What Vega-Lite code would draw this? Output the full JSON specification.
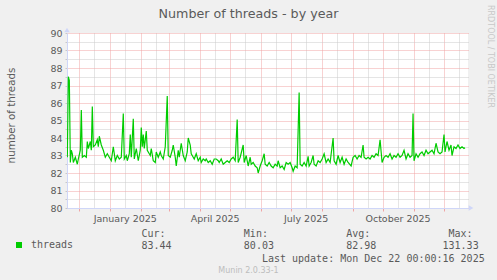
{
  "$schema": "https://vega.github.io/schema/vega-lite/v6.json",
  "width": 401,
  "height": 175,
  "autosize": {"type": "none"},
  "padding": {"left": 67, "top": 33, "right": 29, "bottom": 72},
  "background": "#F0F0F0",
  "config": {"view": {"fill": "#FFFFFF", "stroke": null}},
  "title": {"text": "Munin 2.0.33-1", "orient": "bottom", "anchor": "middle", "frame": "group", "dx": -19, "offset": 4, "font": "DejaVu Sans", "fontSize": 8, "fontWeight": "normal", "color": "#BDBDBD"},
  "layer": [
    {
      "data": {"values": [
        {"date":"2024-11-19","threads":82.9},{"date":"2024-11-20","threads":87.5},{"date":"2024-11-21","threads":87.3},{"date":"2024-11-22","threads":82.6},
        {"date":"2024-11-23","threads":83.3},{"date":"2024-11-24","threads":83.1},{"date":"2024-11-25","threads":82.6},{"date":"2024-11-27","threads":82.9},
        {"date":"2024-11-29","threads":82.5},{"date":"2024-11-30","threads":82.8},{"date":"2024-12-02","threads":83.3},{"date":"2024-12-03","threads":85.6},
        {"date":"2024-12-04","threads":82.9},{"date":"2024-12-06","threads":83.0},{"date":"2024-12-08","threads":82.9},{"date":"2024-12-09","threads":83.8},
        {"date":"2024-12-10","threads":83.4},{"date":"2024-12-12","threads":83.8},{"date":"2024-12-13","threads":83.3},{"date":"2024-12-14","threads":85.8},
        {"date":"2024-12-15","threads":83.5},{"date":"2024-12-17","threads":83.6},{"date":"2024-12-19","threads":83.9},{"date":"2024-12-20","threads":83.5},
        {"date":"2024-12-21","threads":84.1},{"date":"2024-12-23","threads":83.6},{"date":"2024-12-25","threads":83.3},{"date":"2024-12-27","threads":82.9},
        {"date":"2024-12-29","threads":83.1},{"date":"2024-12-31","threads":82.9},{"date":"2025-01-02","threads":82.7},{"date":"2025-01-04","threads":83.5},
        {"date":"2025-01-06","threads":82.7},{"date":"2025-01-08","threads":83.0},{"date":"2025-01-10","threads":82.8},{"date":"2025-01-12","threads":82.9},
        {"date":"2025-01-14","threads":85.4},{"date":"2025-01-15","threads":82.8},{"date":"2025-01-17","threads":83.0},{"date":"2025-01-18","threads":82.7},
        {"date":"2025-01-20","threads":83.1},{"date":"2025-01-21","threads":84.2},{"date":"2025-01-22","threads":82.9},{"date":"2025-01-24","threads":85.1},
        {"date":"2025-01-25","threads":82.8},{"date":"2025-01-27","threads":83.4},{"date":"2025-01-29","threads":82.7},{"date":"2025-01-31","threads":83.3},
        {"date":"2025-02-01","threads":84.6},{"date":"2025-02-02","threads":83.5},{"date":"2025-02-03","threads":84.2},{"date":"2025-02-04","threads":83.4},
        {"date":"2025-02-06","threads":84.4},{"date":"2025-02-07","threads":83.3},{"date":"2025-02-09","threads":83.1},{"date":"2025-02-10","threads":83.0},
        {"date":"2025-02-11","threads":83.4},{"date":"2025-02-13","threads":82.7},{"date":"2025-02-15","threads":82.6},{"date":"2025-02-16","threads":83.2},
        {"date":"2025-02-18","threads":82.9},{"date":"2025-02-20","threads":83.2},{"date":"2025-02-21","threads":83.0},{"date":"2025-02-23","threads":82.8},
        {"date":"2025-02-25","threads":83.5},{"date":"2025-02-27","threads":86.4},{"date":"2025-02-28","threads":83.0},{"date":"2025-03-02","threads":82.9},
        {"date":"2025-03-04","threads":83.3},{"date":"2025-03-05","threads":83.6},{"date":"2025-03-07","threads":82.9},{"date":"2025-03-08","threads":82.4},
        {"date":"2025-03-10","threads":83.3},{"date":"2025-03-11","threads":82.9},{"date":"2025-03-13","threads":83.7},{"date":"2025-03-15","threads":83.0},
        {"date":"2025-03-17","threads":82.7},{"date":"2025-03-19","threads":83.2},{"date":"2025-03-20","threads":84.0},{"date":"2025-03-22","threads":83.6},
        {"date":"2025-03-23","threads":83.1},{"date":"2025-03-25","threads":82.9},{"date":"2025-03-26","threads":82.8},{"date":"2025-03-28","threads":83.1},
        {"date":"2025-03-30","threads":82.7},{"date":"2025-04-01","threads":82.9},{"date":"2025-04-02","threads":82.6},{"date":"2025-04-04","threads":82.8},
        {"date":"2025-04-06","threads":82.7},{"date":"2025-04-07","threads":82.8},{"date":"2025-04-09","threads":82.6},{"date":"2025-04-11","threads":82.7},
        {"date":"2025-04-13","threads":82.5},{"date":"2025-04-15","threads":82.8},{"date":"2025-04-17","threads":82.8},{"date":"2025-04-19","threads":82.7},
        {"date":"2025-04-20","threads":82.6},{"date":"2025-04-22","threads":82.8},{"date":"2025-04-24","threads":82.5},{"date":"2025-04-26","threads":82.6},
        {"date":"2025-04-28","threads":82.7},{"date":"2025-04-30","threads":82.6},{"date":"2025-05-02","threads":82.8},{"date":"2025-05-04","threads":82.9},
        {"date":"2025-05-06","threads":82.7},{"date":"2025-05-08","threads":85.05},{"date":"2025-05-09","threads":82.6},{"date":"2025-05-11","threads":82.9},
        {"date":"2025-05-14","threads":83.6},{"date":"2025-05-15","threads":82.6},{"date":"2025-05-17","threads":83.0},{"date":"2025-05-19","threads":82.4},
        {"date":"2025-05-21","threads":82.9},{"date":"2025-05-22","threads":82.5},{"date":"2025-05-24","threads":82.6},{"date":"2025-05-26","threads":82.4},
        {"date":"2025-05-28","threads":82.3},{"date":"2025-05-29","threads":82.0},{"date":"2025-05-31","threads":82.4},{"date":"2025-06-02","threads":82.7},
        {"date":"2025-06-04","threads":83.1},{"date":"2025-06-05","threads":82.5},{"date":"2025-06-07","threads":82.4},{"date":"2025-06-09","threads":82.6},
        {"date":"2025-06-11","threads":82.4},{"date":"2025-06-13","threads":82.3},{"date":"2025-06-15","threads":82.5},{"date":"2025-06-17","threads":82.4},
        {"date":"2025-06-18","threads":82.7},{"date":"2025-06-20","threads":82.3},{"date":"2025-06-22","threads":82.4},{"date":"2025-06-24","threads":82.2},
        {"date":"2025-06-26","threads":82.6},{"date":"2025-06-28","threads":82.5},{"date":"2025-06-30","threads":82.6},{"date":"2025-07-02","threads":82.3},
        {"date":"2025-07-03","threads":82.1},{"date":"2025-07-05","threads":82.4},{"date":"2025-07-07","threads":82.3},{"date":"2025-07-09","threads":86.6},
        {"date":"2025-07-10","threads":82.5},{"date":"2025-07-12","threads":82.4},{"date":"2025-07-14","threads":82.6},{"date":"2025-07-16","threads":82.4},
        {"date":"2025-07-18","threads":82.95},{"date":"2025-07-19","threads":82.4},{"date":"2025-07-21","threads":82.6},{"date":"2025-07-23","threads":83.0},
        {"date":"2025-07-24","threads":82.5},{"date":"2025-07-26","threads":82.4},{"date":"2025-07-28","threads":82.7},{"date":"2025-07-30","threads":82.6},
        {"date":"2025-08-01","threads":82.8},{"date":"2025-08-03","threads":83.1},{"date":"2025-08-05","threads":82.6},{"date":"2025-08-07","threads":82.8},
        {"date":"2025-08-09","threads":82.6},{"date":"2025-08-12","threads":84.0},{"date":"2025-08-13","threads":82.7},{"date":"2025-08-15","threads":82.5},
        {"date":"2025-08-17","threads":83.0},{"date":"2025-08-19","threads":82.6},{"date":"2025-08-21","threads":82.9},{"date":"2025-08-23","threads":82.5},
        {"date":"2025-08-25","threads":82.8},{"date":"2025-08-27","threads":82.6},{"date":"2025-08-30","threads":82.4},{"date":"2025-09-01","threads":82.9},
        {"date":"2025-09-03","threads":83.0},{"date":"2025-09-05","threads":82.8},{"date":"2025-09-07","threads":83.0},{"date":"2025-09-09","threads":82.9},
        {"date":"2025-09-11","threads":83.6},{"date":"2025-09-12","threads":82.9},{"date":"2025-09-14","threads":82.8},{"date":"2025-09-16","threads":82.9},
        {"date":"2025-09-18","threads":82.8},{"date":"2025-09-20","threads":83.0},{"date":"2025-09-22","threads":82.9},{"date":"2025-09-24","threads":83.1},
        {"date":"2025-09-26","threads":83.0},{"date":"2025-09-28","threads":83.9},{"date":"2025-09-30","threads":82.6},{"date":"2025-10-02","threads":82.9},
        {"date":"2025-10-04","threads":83.0},{"date":"2025-10-06","threads":82.9},{"date":"2025-10-08","threads":83.1},{"date":"2025-10-10","threads":82.8},
        {"date":"2025-10-12","threads":83.0},{"date":"2025-10-14","threads":82.9},{"date":"2025-10-16","threads":83.1},{"date":"2025-10-18","threads":82.9},
        {"date":"2025-10-20","threads":83.0},{"date":"2025-10-22","threads":83.3},{"date":"2025-10-24","threads":82.8},{"date":"2025-10-26","threads":83.1},
        {"date":"2025-10-28","threads":82.9},{"date":"2025-10-30","threads":83.0},{"date":"2025-10-31","threads":85.4},{"date":"2025-11-01","threads":82.7},
        {"date":"2025-11-03","threads":83.1},{"date":"2025-11-05","threads":82.9},{"date":"2025-11-07","threads":83.1},{"date":"2025-11-09","threads":83.2},
        {"date":"2025-11-11","threads":83.0},{"date":"2025-11-13","threads":83.3},{"date":"2025-11-15","threads":83.1},{"date":"2025-11-17","threads":83.2},
        {"date":"2025-11-19","threads":83.3},{"date":"2025-11-21","threads":83.1},{"date":"2025-11-23","threads":83.7},{"date":"2025-11-25","threads":83.2},
        {"date":"2025-11-27","threads":83.1},{"date":"2025-11-29","threads":83.2},{"date":"2025-12-01","threads":84.2},{"date":"2025-12-02","threads":83.2},
        {"date":"2025-12-04","threads":83.8},{"date":"2025-12-06","threads":83.3},{"date":"2025-12-08","threads":83.6},{"date":"2025-12-09","threads":83.0},
        {"date":"2025-12-11","threads":83.5},{"date":"2025-12-13","threads":83.4},{"date":"2025-12-15","threads":83.6},{"date":"2025-12-17","threads":83.4},
        {"date":"2025-12-19","threads":83.5},{"date":"2025-12-21","threads":83.4},{"date":"2025-12-22","threads":83.44}
      ]},
      "transform": [{"fold": ["threads"], "as": ["series", "value"]}],
      "mark": {"type": "line", "strokeWidth": 1.2, "clip": true},
      "encoding": {
        "x": {
          "field": "date", "type": "temporal",
          "scale": {"type": "utc", "domain": [{"year": 2024, "month": 11, "date": 18, "hours": 16, "utc": true}, {"year": 2025, "month": 12, "date": 25, "utc": true}]},
          "axis": {
            "orient": "bottom",
            "values": [
              {"year": 2024, "month": 12, "date": 1, "utc": true}, {"year": 2025, "month": 1, "date": 1, "utc": true}, {"year": 2025, "month": 2, "date": 1, "utc": true},
              {"year": 2025, "month": 3, "date": 1, "utc": true}, {"year": 2025, "month": 4, "date": 1, "utc": true}, {"year": 2025, "month": 5, "date": 1, "utc": true},
              {"year": 2025, "month": 6, "date": 1, "utc": true}, {"year": 2025, "month": 7, "date": 1, "utc": true}, {"year": 2025, "month": 8, "date": 1, "utc": true},
              {"year": 2025, "month": 9, "date": 1, "utc": true}, {"year": 2025, "month": 10, "date": 1, "utc": true}, {"year": 2025, "month": 11, "date": 1, "utc": true},
              {"year": 2025, "month": 12, "date": 1, "utc": true},
              {"year": 2024, "month": 12, "date": 15, "hours": 12, "utc": true}, {"year": 2025, "month": 1, "date": 15, "hours": 12, "utc": true}, {"year": 2025, "month": 2, "date": 15, "hours": 12, "utc": true},
              {"year": 2025, "month": 3, "date": 15, "hours": 12, "utc": true}, {"year": 2025, "month": 4, "date": 15, "hours": 12, "utc": true}, {"year": 2025, "month": 5, "date": 15, "hours": 12, "utc": true},
              {"year": 2025, "month": 6, "date": 15, "hours": 12, "utc": true}, {"year": 2025, "month": 7, "date": 15, "hours": 12, "utc": true}, {"year": 2025, "month": 8, "date": 15, "hours": 12, "utc": true},
              {"year": 2025, "month": 9, "date": 15, "hours": 12, "utc": true}, {"year": 2025, "month": 10, "date": 15, "hours": 12, "utc": true}, {"year": 2025, "month": 11, "date": 15, "hours": 12, "utc": true},
              {"year": 2025, "month": 12, "date": 15, "hours": 12, "utc": true}
            ],
            "labelExpr": "utcdate(datum.value) === 15 && utcmonth(datum.value) % 3 === 0 ? utcFormat(datum.value, '%B %Y') : ''",
            "labelOverlap": false, "labelFlush": false, "labelBound": false,
            "labelFont": "DejaVu Sans", "labelFontSize": 9.5, "labelColor": "#5A5A5A", "labelPadding": 2,
            "grid": true, "gridDash": [1, 1], "gridWidth": 1,
            "gridColor": {"condition": {"test": "utcdate(datum.value) === 1", "value": "#F0A4A4"}, "value": "#CACACA"},
            "ticks": true, "tickSize": 3,
            "tickColor": {"condition": {"test": "utcdate(datum.value) === 1", "value": "#F0A4A4"}, "value": "transparent"},
            "domainColor": "#CFD6F8", "domainWidth": 1,
            "title": [
              "Cur:\u00a0\u00a0\u00a0\u00a0\u00a0\u00a0\u00a0\u00a0\u00a0\u00a0\u00a0\u00a0\u00a0Min:\u00a0\u00a0\u00a0\u00a0\u00a0\u00a0\u00a0\u00a0\u00a0\u00a0\u00a0\u00a0\u00a0Avg:\u00a0\u00a0\u00a0\u00a0\u00a0\u00a0\u00a0\u00a0\u00a0\u00a0\u00a0\u00a0\u00a0Max:",
              "83.44\u00a0\u00a0\u00a0\u00a0\u00a0\u00a0\u00a0\u00a0\u00a0\u00a0\u00a0\u00a080.03\u00a0\u00a0\u00a0\u00a0\u00a0\u00a0\u00a0\u00a0\u00a0\u00a0\u00a0\u00a082.98\u00a0\u00a0\u00a0\u00a0\u00a0\u00a0\u00a0\u00a0\u00a0\u00a0\u00a0131.33",
              "\u200b\u00a0\u00a0\u00a0\u00a0\u00a0\u00a0\u00a0\u00a0\u00a0\u00a0\u00a0\u00a0\u00a0\u00a0\u00a0\u00a0\u00a0\u00a0\u00a0\u00a0Last update: Mon Dec 22 00:00:16 2025"
            ],
            "titleFont": "DejaVu Sans Mono", "titleFontSize": 10, "titleFontWeight": "normal", "titleColor": "#5A5A5A",
            "titleAlign": "left", "titleBaseline": "alphabetic", "titleX": 74, "titleY": 28.7, "titleLineHeight": 12.2
          }
        },
        "y": {
          "field": "value", "type": "quantitative",
          "scale": {"domain": [80, 90], "nice": false, "zero": false},
          "axis": {
            "orient": "left",
            "values": [80, 80.5, 81, 81.5, 82, 82.5, 83, 83.5, 84, 84.5, 85, 85.5, 86, 86.5, 87, 87.5, 88, 88.5, 89, 89.5, 90],
            "labelExpr": "datum.value % 1 === 0 ? format(datum.value, 'd') : ''",
            "labelFont": "DejaVu Sans", "labelFontSize": 9.5, "labelColor": "#5A5A5A", "labelPadding": 3,
            "grid": true, "gridDash": [1, 1], "gridWidth": 1,
            "gridColor": {"condition": {"test": "datum.value % 1 === 0", "value": "#F0A4A4"}, "value": "#CACACA"},
            "ticks": true, "tickSize": 2, "tickColor": "#C8C8C8",
            "domainColor": "#CFD6F8", "domainWidth": 1,
            "title": "number of threads",
            "titleFont": "DejaVu Sans", "titleFontSize": 10.3, "titleFontWeight": "normal", "titleColor": "#5A5A5A",
            "titleAngle": -90, "titleAlign": "center", "titleBaseline": "middle", "titleX": -56, "titleY": 82
          }
        },
        "color": {
          "field": "series", "type": "nominal",
          "scale": {"range": ["#00CC00"]},
          "legend": {
            "orient": "none", "legendX": -53, "legendY": 207, "title": null, "padding": 0,
            "symbolType": "square", "symbolSize": 36, "symbolStrokeWidth": 0, "symbolFillColor": "#00CC00",
            "labelFont": "DejaVu Sans Mono", "labelFontSize": 10, "labelColor": "#5A5A5A", "labelOffset": 7,
            "encode": {"symbols": {"update": {"fill": {"value": "#00CC00"}, "stroke": {"value": "transparent"}}}}
          }
        }
      }
    },
    {
      "data": {"values": [{}]},
      "mark": {"type": "point", "shape": "triangle-right", "filled": true, "color": "#CFD6F8", "size": 30, "opacity": 1, "xOffset": 3},
      "encoding": {
        "x": {
          "datum": {"year": 2025, "month": 12, "date": 25, "utc": true}, "type": "temporal",
          "axis": {
            "orient": "top", "domain": false, "ticks": false, "labels": false, "grid": false,
            "title": "Number of threads - by year",
            "titleFont": "DejaVu Sans", "titleFontSize": 12.7, "titleFontWeight": "normal", "titleColor": "#5A5A5A",
            "titleAlign": "center", "titleBaseline": "middle", "titleX": 181, "titleY": -20
          }
        },
        "y": {
          "datum": 80, "type": "quantitative",
          "axis": {
            "orient": "right", "domain": false, "ticks": false, "labels": false, "grid": false,
            "title": "RRDTOOL / TOBI OETIKER",
            "titleFont": "DejaVu Sans", "titleFontSize": 8, "titleFontWeight": "normal", "titleColor": "#C8C8C8",
            "titleAngle": 90, "titleAlign": "center", "titleBaseline": "middle", "titleX": 21.5, "titleY": 23
          }
        }
      }
    },
    {
      "data": {"values": [{}]},
      "mark": {"type": "point", "shape": "triangle-up", "filled": true, "color": "#CFD6F8", "size": 30, "opacity": 1, "yOffset": -3},
      "encoding": {
        "x": {"datum": {"year": 2024, "month": 11, "date": 18, "hours": 16, "utc": true}, "type": "temporal", "axis": null},
        "y": {"datum": 90, "type": "quantitative", "axis": null}
      }
    }
  ],
  "resolve": {"axis": {"x": "independent", "y": "independent"}}
}
